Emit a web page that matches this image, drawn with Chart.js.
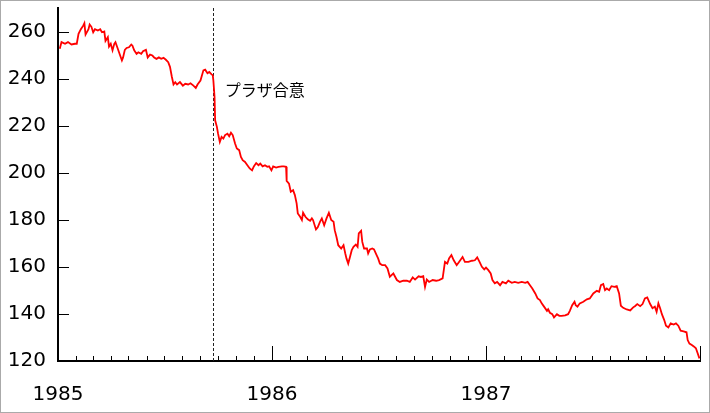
<!DOCTYPE html>
<html>
<head>
<meta charset="utf-8">
<script src="https://cdn.jsdelivr.net/npm/chart.js@4"></script>
<style>
  body { margin: 0; background: #fff; }
  canvas { display: block; }
</style>
</head>
<body>
<canvas id="rateChart" width="710" height="413"></canvas>
<script>
// USD/JPY 1985-1987, days counted from 1 Jan 1985
const days = [3,6,12,17,23,29,32,35,39,43,45,47,52,54,57,60,63,68,72,75,
  79,81,85,87,90,93,96,98,102,106,109,111,114,117,121,125,127,130,134,137,
  142,145,150,153,157,161,164,168,172,176,180,184,188,191,194,197,200,203,208,213,
  217,222,226,231,235,238,243,248,251,255,258,262,264,265,267,268,271,273,276,279,
  282,285,289,292,295,298,302,305,309,312,315,319,323,327,331,334,338,342,345,349,
  353,357,360,364,367,372,376,382,385,389,390,394,397,401,404,407,409,413,416,418,
  422,426,430,433,435,440,443,447,450,454,458,462,466,470,472,475,478,483,487,490,
  492,495,498,501,504,508,511,513,517,519,522,527,529,532,536,539,544,546,549,553,
  558,562,566,572,578,583,589,595,600,605,609,615,619,623,626,629,633,639,645,650,
  656,658,660,664,667,671,675,680,684,690,694,700,706,711,715,719,723,727,730,734,
  738,741,745,749,754,758,764,768,774,779,785,791,797,801,805,809,814,818,822,825,
  829,834,836,839,843,846,851,855,859,865,870,873,877,881,883,886,890,896,902,907,
  913,919,923,926,930,933,936,940,944,949,953,957,960,964,970,976,981,984,988,993,
  997,1001,1005,1010,1014,1018,1021,1024,1027,1030,1034,1037,1041,1045,1050,1054,1058,1062,1067,1072,
  1074,1077,1081,1085,1088,1091,1094];

const rates = [252.7,255.5,254.8,255.5,254.5,254.8,254.8,259,261,262.5,
  263.5,258.7,261,263,262,259.7,261,260.4,261,259.7,
  260,256,257.6,253.6,254.8,252,254.8,255.5,252.7,249.8,
  247.7,249,252.2,253,253.3,254.5,254,252,250.5,251.2,
  250.5,251.6,252.2,249,250.2,249.8,249,248.4,249,248.4,
  248.8,248,247,245,241,237.5,238.5,237.5,238.5,237,
  237.8,237.5,238,237,236,237.5,239.2,243.5,243.8,242.3,
  242.8,241.8,241.4,239.2,232.2,222.3,219.5,216.6,213.1,215.2,
  214.5,216,216.6,215.5,217,216,212.4,210.3,209.6,206.7,
  205.3,204.6,203.2,201.8,201,202.7,204.1,203.2,203.9,202.7,
  203.2,202.5,202.7,201,202.7,202.2,202.5,202.7,202.7,202.5,
  196.5,195.4,191.9,192.6,190.5,187,182.7,181.3,179.9,183,
  181.3,180.2,179.6,180.6,179.9,175.9,176.8,179.2,180.6,177.7,
  180.6,183,179.9,179.2,175.6,172.7,169.2,167.8,169.2,165.7,
  163.6,161.4,164.2,167.1,168.5,169.5,168.5,174.2,175.3,170.6,
  167.8,167.8,165.7,167.4,167.8,167.4,164.7,163.6,161.4,160.7,
  160.7,159.3,155.8,157.2,154.4,153.6,154.1,154.1,153.6,155.5,
  154.6,156,155.7,156,151.5,154.6,153.6,154.4,154.1,154.4,
  155.1,158.6,162.1,161.4,163.6,165,162.8,160.7,162.1,164.2,
  162.1,162.1,162.6,162.8,164,162.1,160,158.9,159.7,158.6,
  157.2,154.4,153,153.6,152.2,153.6,153,154.1,153.2,153.6,
  153.2,153.6,153.2,153.6,152.2,150.8,148.7,146.6,145.9,144.5,
  143.1,141.3,142,140.5,139.9,138.5,139.9,139.2,139.2,139.4,
  139.9,141.3,143.7,145.2,143.7,143.1,144.5,145.2,146.2,146.6,
  148.7,149.8,149.4,152.2,152.7,150.1,150.8,150.1,151.8,151.5,
  151.8,148.7,143.5,142.6,141.9,141.5,142.8,143.3,144.2,143.3,
  144.2,146.6,147,144.2,142.4,143.1,140.9,144.5,142.4,139.9,
  137.4,135,134.3,136,135.5,136,135,132.9,132.6,132.2,
  128.9,127.4,126.8,126.1,125.4,123.3,121.1];

const yearLabels = ['1985', '1986', '1987'];
const yearStarts = [0, 365, 730, 1095];
const monthStarts = [0, 31, 59, 90, 120, 151, 181, 212, 243, 273, 304, 334];
const rateTicks = [120, 140, 160, 180, 200, 220, 240, 260];

// Plaza Accord, 22 Sep 1985
const plazaDay = 264;
const plazaLabel = 'プラザ合意';

// inward tick marks, Plaza line, label and outer frame
const decorPlugin = {
    id: 'decor',
    beforeDatasetsDraw(chart) {
        const { ctx, chartArea: area, scales: { x, y } } = chart;
        ctx.save();
        ctx.strokeStyle = '#000';
        ctx.lineWidth = 1;
        ctx.beginPath();
        rateTicks.forEach(v => {
            const py = Math.round(y.getPixelForValue(v)) + 0.5;
            ctx.moveTo(area.left, py);
            ctx.lineTo(area.left + 11, py);
        });
        yearStarts.slice(0, 3).forEach(ys => {
            monthStarts.forEach(m => {
                if (m === 0) return;
                const px = Math.round(x.getPixelForValue(ys + m)) + 0.5;
                ctx.moveTo(px, area.bottom);
                ctx.lineTo(px, area.bottom - 5);
            });
        });
        yearStarts.forEach(ys => {
            const px = Math.round(x.getPixelForValue(ys)) + 0.5;
            ctx.moveTo(px, area.bottom);
            ctx.lineTo(px, area.bottom - 15);
        });
        ctx.stroke();

        // Plaza Accord line
        const px = Math.round(x.getPixelForValue(plazaDay)) + 0.5;
        ctx.strokeStyle = '#222';
        ctx.setLineDash([3, 2]);
        ctx.beginPath();
        ctx.moveTo(px, area.top);
        ctx.lineTo(px, area.bottom);
        ctx.stroke();
        ctx.restore();
    },
    afterDraw(chart) {
        const { ctx, scales: { x } } = chart;
        ctx.save();
        ctx.fillStyle = '#000';
        ctx.font = '16px "Noto Sans CJK JP"';
        ctx.textBaseline = 'middle';
        ctx.fillText(plazaLabel, x.getPixelForValue(plazaDay) + 12, 90);
        ctx.strokeStyle = '#aaa';
        ctx.lineWidth = 1;
        ctx.strokeRect(0.5, 0.5, chart.width - 1, chart.height - 1);
        ctx.restore();
    }
};

const tickFont = { family: '"DejaVu Sans"', size: 20 };

// drop the label overflow padding so the plot area runs edge to edge
function noEdgePadding(scale) {
    scale.paddingLeft = 0;
    scale.paddingRight = 0;
    scale.paddingTop = 0;
    scale.paddingBottom = 0;
}

new Chart(document.getElementById('rateChart').getContext('2d'), {
    type: 'line',
    data: {
        datasets: [{
            label: 'USD/JPY',
            data: days.map((d, i) => ({ x: d, y: rates[i] })),
            borderColor: '#ff0000',
            borderWidth: 1.8,
            pointRadius: 0,
            tension: 0
        }]
    },
    options: {
        responsive: false,
        animation: false,
        devicePixelRatio: 1,
        layout: { padding: { left: 8, right: 10, top: 8, bottom: 0 } },
        plugins: {
            legend: { display: false },
            tooltip: { enabled: false }
        },
        scales: {
            x: {
                type: 'linear',
                min: 0,
                max: 1095,
                afterBuildTicks: scale => { scale.ticks = yearStarts.map(v => ({ value: v })); },
                afterFit: scale => { scale.height = 52; noEdgePadding(scale); },
                grid: { display: false, drawTicks: false },
                border: { display: true, color: '#000', width: 2 },
                ticks: {
                    autoSkip: false,
                    maxRotation: 0,
                    padding: 22,
                    color: '#000',
                    font: tickFont,
                    callback: (value, index) => yearLabels[index] || ''
                }
            },
            y: {
                min: 120,
                max: 270,
                afterBuildTicks: scale => { scale.ticks = rateTicks.map(v => ({ value: v })); },
                afterFit: scale => { scale.width = 50; noEdgePadding(scale); },
                grid: { display: false, drawTicks: false },
                border: { display: true, color: '#000', width: 2 },
                ticks: {
                    padding: 12,
                    color: '#000',
                    font: tickFont
                }
            }
        }
    },
    plugins: [decorPlugin]
});
</script>
</body>
</html>
